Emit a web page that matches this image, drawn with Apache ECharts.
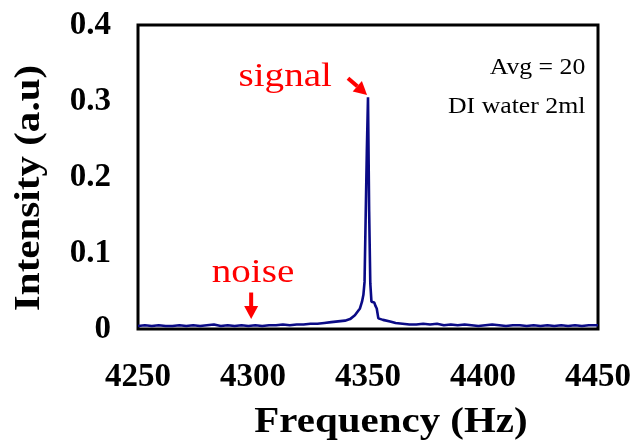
<!DOCTYPE html>
<html><head><meta charset="utf-8">
<script src="https://cdn.jsdelivr.net/npm/echarts@6/dist/echarts.min.js"></script>
<style>html,body{margin:0;padding:0;background:#fff}#c{width:631px;height:444px}</style>
</head><body><div id="c"></div>
<script>
// Frequency (Hz)
const freqs = [
 4250,4253,4256,4259,4262,4265,4268,4271,4274,4277,4280,4283,4286,4289,4292,4295,4298,4301,4304,4307,4310,4313,4316,4319,4322,4325,4328,4331,4334,4337,4340,
 4342.2,4344.3,4346.5,4347.4,4348,4348.5,4349,4349.5,4350,4350.5,4351,4351.5,4352,4352.7,4353.3,4353.8,4354.5,4356.5,4359.6,
 4362,4365,4368,4371,4374,4377,4380,4383,4386,4389,4392,4395,4398,4401,4404,4407,4410,4413,4416,4419,4422,4425,4428,4431,4434,4437,4440,4443,4446,4450
];
// Intensity (a.u)
const intensity = [
 0.004,0.005,0.004,0.005,0.004,0.004,0.005,0.004,0.005,0.004,0.005,0.006,0.004,0.005,0.004,0.005,0.004,0.005,0.004,0.005,0.005,0.006,0.005,0.006,0.006,0.007,0.007,0.008,0.009,0.010,0.011,
 0.013,0.018,0.027,0.036,0.045,0.062,0.150,0.235,0.305,0.155,0.060,0.036,0.034,0.035,0.030,0.027,0.014,0.012,0.010,
 0.008,0.007,0.006,0.006,0.007,0.006,0.007,0.005,0.006,0.005,0.006,0.005,0.004,0.005,0.006,0.005,0.004,0.005,0.005,0.004,0.005,0.004,0.005,0.004,0.005,0.004,0.005,0.004,0.005,0.005
];
const xTicks = [4250,4300,4350,4400,4450];
const yTicks = [0,0.1,0.2,0.3,0.4];

const serif = '"Liberation Serif","Times New Roman",serif';
const chart = echarts.init(document.getElementById('c'), null, {renderer:'canvas'});
const option = {
  animation:false,
  backgroundColor:'#fff',
  grid:{left:138, top:25, width:460, height:304, show:true, borderColor:'#000', borderWidth:3,
    backgroundColor:'transparent', containLabel:false, outerBoundsMode:'none'},
  xAxis:{type:'value', min:xTicks[0], max:xTicks[xTicks.length-1], interval:50,
    axisLine:{show:false}, axisTick:{show:false}, splitLine:{show:false},
    axisLabel:{fontFamily:serif, fontWeight:'bold', fontSize:33, color:'#000', margin:32,
      formatter:v=>String(v)}},
  yAxis:{type:'value', min:yTicks[0], max:yTicks[yTicks.length-1], interval:0.1,
    axisLine:{show:false}, axisTick:{show:false}, splitLine:{show:false},
    axisLabel:{fontFamily:serif, fontWeight:'bold', fontSize:33, color:'#000', margin:27,
      formatter:v=> v===0 ? '0' : v.toFixed(1)}},
  series:[{type:'line', data:freqs.map((f,i)=>[f,intensity[i]]), showSymbol:false, symbol:'none',
    lineStyle:{color:'#0a0a86', width:2.6}, z:3}]
};
chart.setOption(option);

const P = (x,y)=>chart.convertToPixel({gridIndex:0},[x,y]);
const red = '#ff0000';
function arrow(p0,p1){
  const dx=p1[0]-p0[0], dy=p1[1]-p0[1], L=Math.hypot(dx,dy), ux=dx/L, uy=dy/L;
  const hl=13, hw=7;
  const bx=p1[0]-ux*hl, by=p1[1]-uy*hl;
  return [
    {type:'line', shape:{x1:p0[0],y1:p0[1],x2:bx,y2:by}, style:{stroke:red, lineWidth:4}},
    {type:'polygon', shape:{points:[[p1[0],p1[1]],[bx-uy*hw,by+ux*hw],[bx+uy*hw,by-ux*hw]]}, style:{fill:red}}
  ];
}
const sig = P(4314,0.3316), noi = P(4300,0.073);
const avg = P(4444.5,0.343), di = P(4444.5,0.292);
const graphics = [
  {type:'text', x:391, y:423, scaleX:1.17, style:{text:'Frequency (Hz)', font:'bold 35px '+serif, fill:'#000', textAlign:'center', textVerticalAlign:'middle'}},
  {type:'text', x:30, y:188, rotation:Math.PI/2, scaleX:1.14, style:{text:'Intensity (a.u)', font:'bold 36px '+serif, fill:'#000', textAlign:'center', textVerticalAlign:'middle'}},
  {type:'text', x:sig[0], y:sig[1], scaleX:1.15, style:{text:'signal', font:'34px '+serif, fill:red, textAlign:'center', textVerticalAlign:'middle'}},
  {type:'text', x:noi[0], y:noi[1], scaleX:1.15, style:{text:'noise', font:'34px '+serif, fill:red, textAlign:'center', textVerticalAlign:'middle'}},
  {type:'text', x:avg[0], y:avg[1], scaleX:1.12, style:{text:'Avg = 20', font:'23px '+serif, fill:'#000', textAlign:'right', textVerticalAlign:'middle'}},
  {type:'text', x:di[0], y:di[1], scaleX:1.12, style:{text:'DI water 2ml', font:'23px '+serif, fill:'#000', textAlign:'right', textVerticalAlign:'middle'}},
  ...arrow(P(4341.3,0.330), P(4349.6,0.308)),
  ...arrow(P(4299.2,0.048), P(4299.2,0.013))
];
chart.setOption({graphic:graphics});
</script></body></html>
